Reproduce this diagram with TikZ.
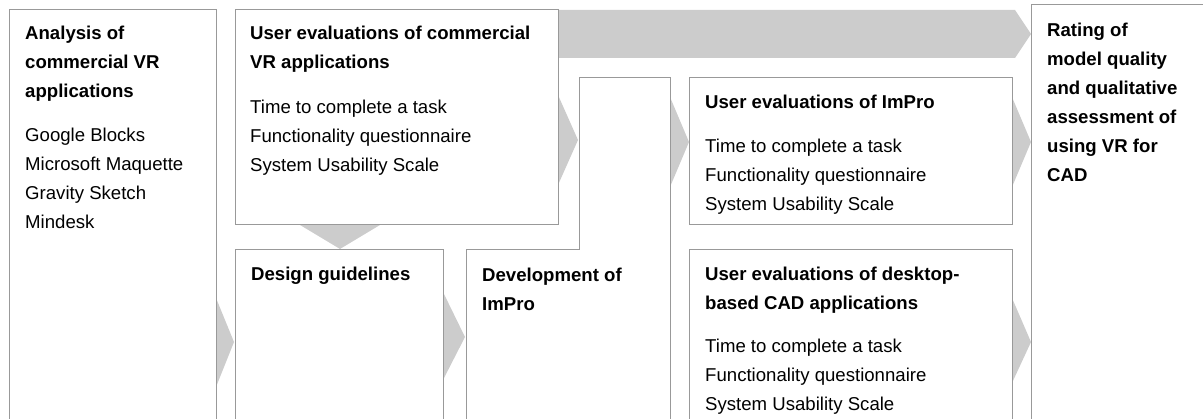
\documentclass[tikz,border=0pt]{standalone}
\usepackage{fontspec}
\setmainfont{Liberation Sans}
\definecolor{chev}{HTML}{CCCCCC}
\definecolor{edge}{HTML}{999999}
\begin{document}
\begin{tikzpicture}[x=1pt,y=-1pt,
  boxline/.style={draw=edge,line width=1pt,fill=white},
  chevron/.style={fill=chev,draw=none},
  txt/.style={anchor=base west,inner sep=0pt,align=left,
    font=\fontsize{18.6}{29}\selectfont}]
\useasboundingbox (0,0) rectangle (1203,419);
\clip (0,0) rectangle (1203,419);
% top band arrow
\fill[chev] (550,10) -- (1015,10) -- (1031,34) -- (1015,58) -- (550,58) -- cycle;
% chevrons
\path[chevron] (216,298) -- (234,342) -- (216,387) -- cycle;
\path[chevron] (558,95) -- (578,140) -- (558,185) -- cycle;
\path[chevron] (443,292) -- (465,337) -- (443,380) -- cycle;
\path[chevron] (670,97) -- (689,142) -- (670,187) -- cycle;
\path[chevron] (1012,97) -- (1031,142) -- (1012,187) -- cycle;
\path[chevron] (1012,298) -- (1031,342) -- (1012,383) -- cycle;
\path[chevron] (300,225) -- (380,225) -- (340,249) -- cycle;
% boxes
\path[boxline] (9,430) -- (9,10) -- (216,10) -- (216,430);
\path[boxline] (235,10) rectangle (558,225);
\path[boxline] (235,430) -- (235,250) -- (443,250) -- (443,430);
\path[boxline] (466,430) -- (466,250) -- (579,250) -- (579,78) -- (670,78) -- (670,430);
\path[boxline] (689,78) rectangle (1012,225);
\path[boxline] (689,430) -- (689,250) -- (1012,250) -- (1012,430);
\path[boxline] (1031,430) -- (1031,5) -- (1210,5) -- (1210,430);
% texts (anchored at the baseline of the last line)
\node[txt] (tA) at (25,229) {\bfseries Analysis of\\\bfseries commercial VR\\\bfseries applications\\[15pt]Google Blocks\\Microsoft Maquette\\Gravity Sketch\\Mindesk};
\node[txt] (tB) at (250,172) {\bfseries User evaluations of commercial\\\bfseries VR applications\\[16pt]Time to complete a task\\Functionality questionnaire\\System Usability Scale};
\node[txt] (tC) at (251,281) {\bfseries Design guidelines};
\node[txt] (tD) at (482,311) {\bfseries Development of\\\bfseries ImPro};
\node[txt] (tE) at (705,211) {\bfseries User evaluations of ImPro\\[15pt]Time to complete a task\\Functionality questionnaire\\System Usability Scale};
\node[txt] (tF) at (705,411) {\bfseries User evaluations of desktop-\\\bfseries based CAD applications\\[14pt]Time to complete a task\\Functionality questionnaire\\System Usability Scale};
\node[txt] (tG) at (1047,182) {\bfseries Rating of\\\bfseries model quality\\\bfseries and qualitative\\\bfseries assessment of\\\bfseries using VR for\\\bfseries CAD};
\end{tikzpicture}
\end{document}
